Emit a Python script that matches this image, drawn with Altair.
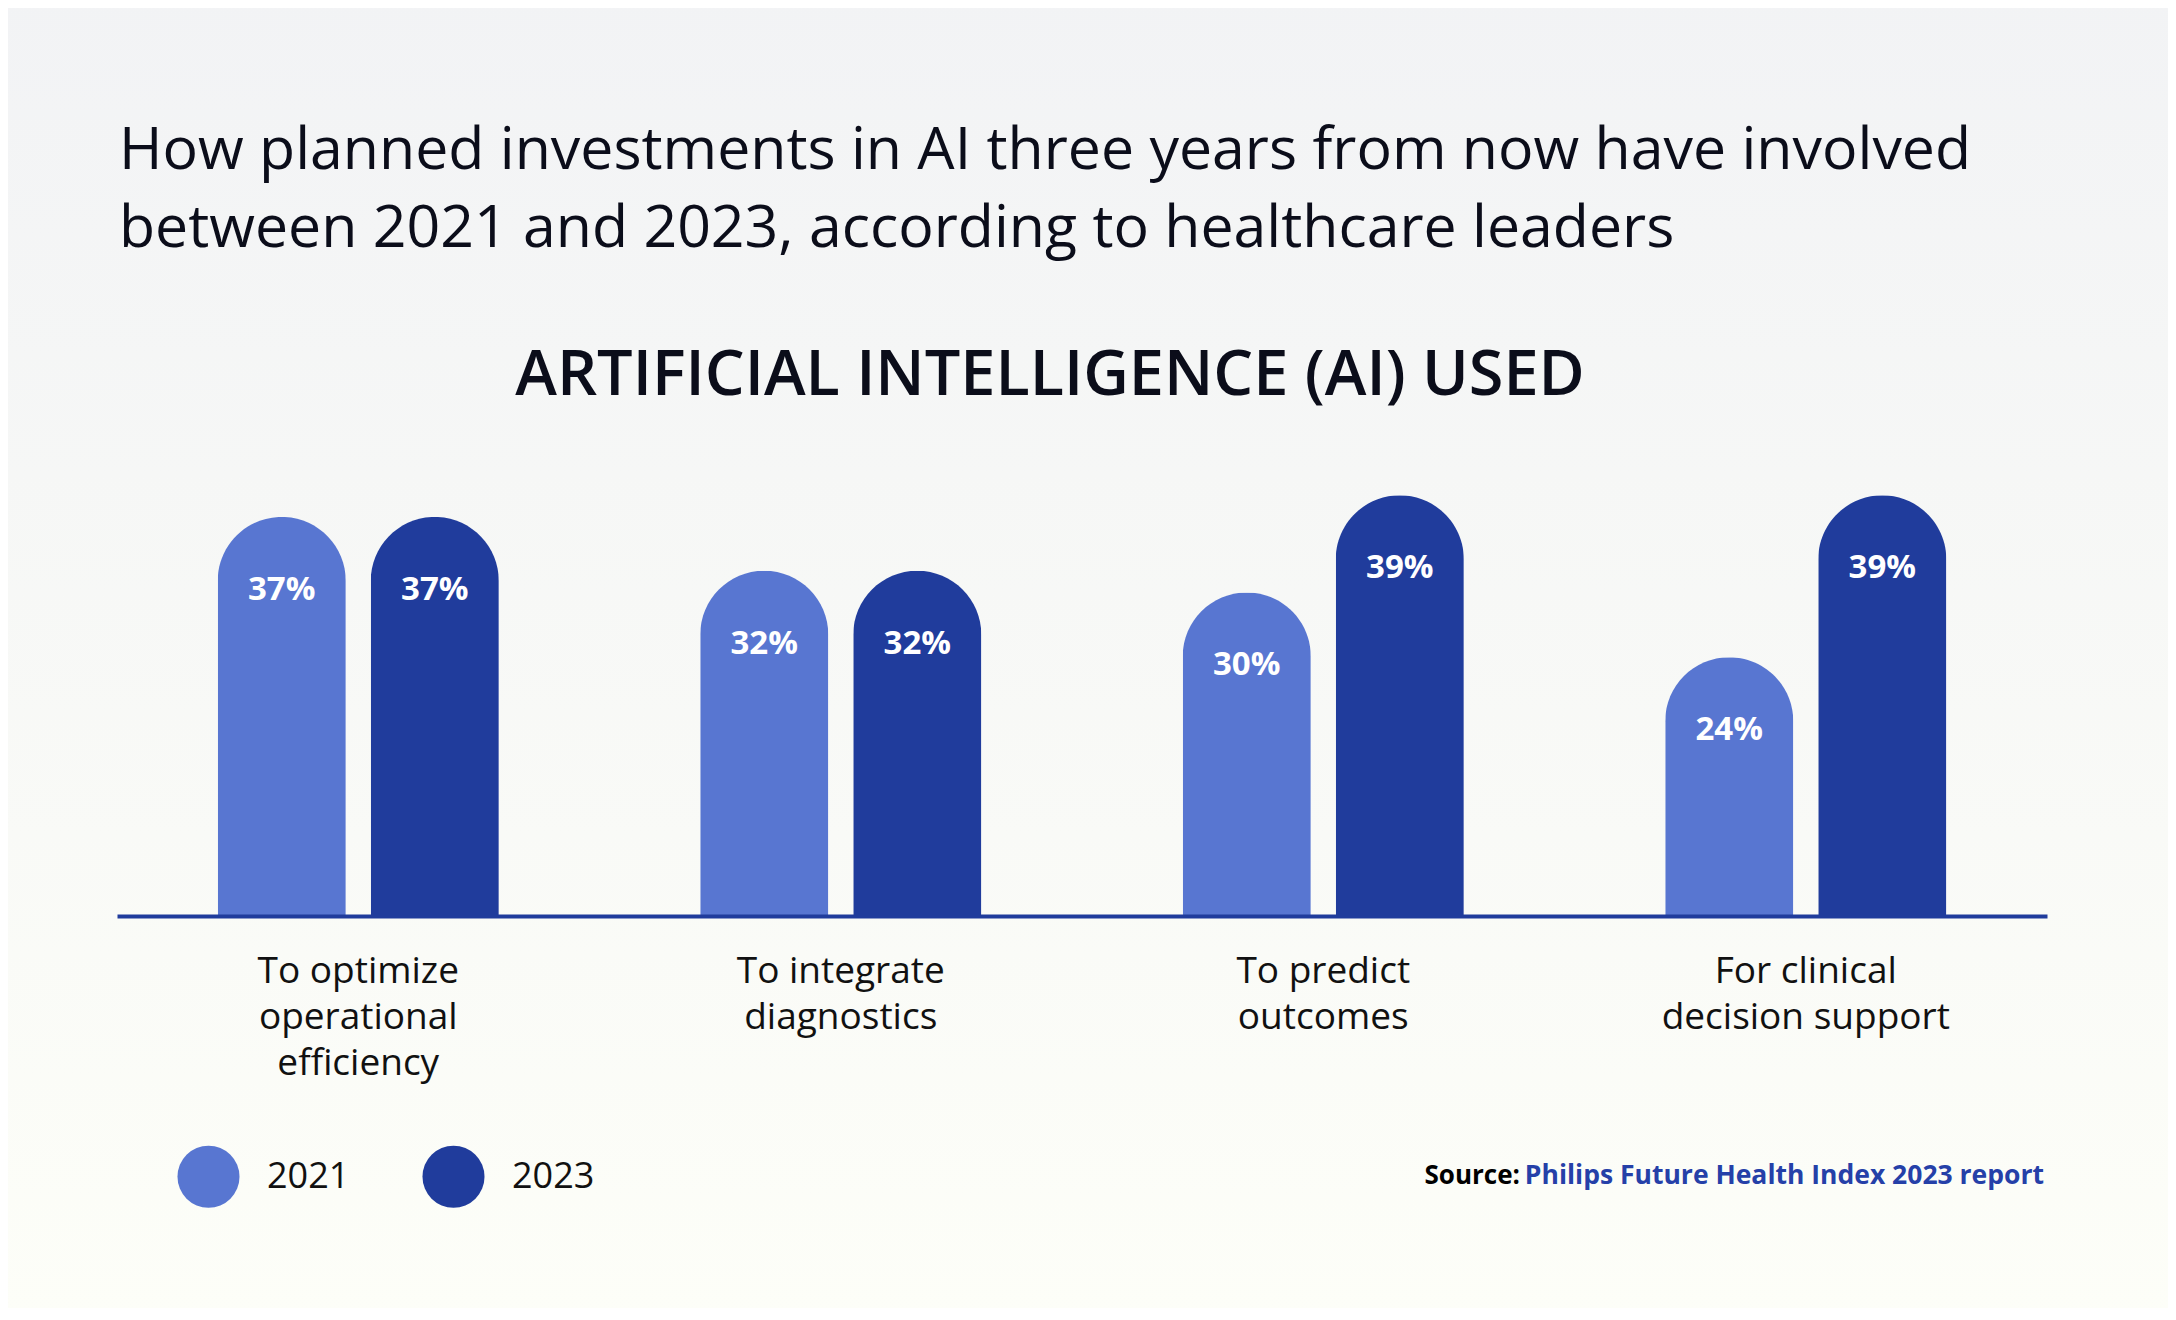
import altair as alt
import pandas as pd

# ---- data ----
categories = [
    "To optimize|operational|efficiency",
    "To integrate|diagnostics",
    "To predict|outcomes",
    "For clinical|decision support",
]
years = ["2021", "2023"]
values_2021 = [37, 32, 30, 24]
values_2023 = [37, 32, 39, 39]

title_lines = [
    "How planned investments in AI three years from now have involved",
    "between 2021 and 2023, according to healthcare leaders",
]
heading = "ARTIFICIAL INTELLIGENCE (AI) USED"
source_label = "Source:"
source_text = "Philips Future Health Index 2023 report"

rows = []
for c, v1, v2 in zip(categories, values_2021, values_2023):
    rows.append({"category": c, "year": "2021", "value": v1, "label": f"{v1}%"})
    rows.append({"category": c, "year": "2023", "value": v2, "label": f"{v2}%"})
df = pd.DataFrame(rows)

LIGHT = "#5876D1"
DARK = "#203C9C"
INK = "#0B0D1A"
FONT = "Open Sans"

W, H = 1930, 453

one = pd.DataFrame({"k": [0]})

bg = alt.Chart(one).mark_rect(
    fill=alt.Gradient(
        gradient="linear",
        stops=[alt.GradientStop(color="#F2F3F5", offset=0),
               alt.GradientStop(color="#FDFEF8", offset=1)],
        x1=0, x2=0, y1=0, y2=1,
    )
).encode(
    x=alt.value(-120), x2=alt.value(W + 130),
    y=alt.value(-470), y2=alt.value(H + 400),
)

xenc = alt.X(
    "category:N", sort=categories,
    scale=alt.Scale(paddingInner=0, paddingOuter=0),
    axis=alt.Axis(
        title=None, ticks=False, domain=True, domainColor=DARK, domainWidth=4,
        labelExpr="split(datum.value, '|')", labelAngle=0, labelFontSize=37,
        labelLineHeight=46, labelPadding=37, labelFont=FONT, labelColor="#111111",
        labelBaseline="top", labelLimit=0, grid=False, zindex=2,
    ),
)
xoff = alt.XOffset("year:N", sort=years,
                   scale=alt.Scale(paddingInner=0.163, paddingOuter=0.658))
yenc = alt.Y("value:Q", scale=alt.Scale(domain=[0, 42]), axis=None)

base = alt.Chart(df)

bars = base.mark_bar(cornerRadiusTopLeft=64, cornerRadiusTopRight=64).encode(
    x=xenc, xOffset=xoff, y=yenc,
    color=alt.Color(
        "year:N", sort=years,
        scale=alt.Scale(domain=years, range=[LIGHT, DARK]),
        legend=alt.Legend(
            title=None, orient="none", legendX=60, legendY=682, direction="horizontal",
            symbolType="circle", symbolSize=3848, symbolStrokeWidth=0, symbolOpacity=1,
            labelFontSize=36, labelFont=FONT, labelColor="#111111", labelOffset=27,
            columnPadding=72, padding=0,
        ),
    ),
)

labels = base.mark_text(
    color="white", fontSize=33, fontWeight="bold", font=FONT, baseline="middle", dy=73
).encode(x=xenc, xOffset=xoff, y=yenc, text="label:N")

title_txt = alt.Chart(one).mark_text(
    align="left", baseline="alphabetic", fontSize=59, font=FONT, color=INK, lineHeight=78
).encode(x=alt.value(2), y=alt.value(-294), text=alt.value(title_lines))

heading_txt = alt.Chart(one).mark_text(
    align="center", baseline="alphabetic", fontSize=63, font=FONT, fontWeight=600, color=INK
).encode(x=alt.value(933), y=alt.value(-68), text=alt.value(heading))

src1 = alt.Chart(one).mark_text(
    align="right", baseline="alphabetic", fontSize=26, font=FONT, fontWeight="bold", color="#000000"
).encode(x=alt.value(1403), y=alt.value(721), text=alt.value(source_label))

src2 = alt.Chart(one).mark_text(
    align="right", baseline="alphabetic", fontSize=26.5, font=FONT, fontWeight="bold", color="#2540A8"
).encode(x=alt.value(1927), y=alt.value(721), text=alt.value(source_text))

chart = alt.layer(bg, bars, labels, title_txt, heading_txt, src1, src2).properties(
    width=W, height=H,
    autosize=alt.AutoSizeParams(type="none"),
    padding={"left": 109, "top": 455, "right": 121, "bottom": 392},
    background="#F7F8F7",
).configure_view(stroke=None)

chart.save("out.html", embed_options={"renderer": "svg", "actions": False})
